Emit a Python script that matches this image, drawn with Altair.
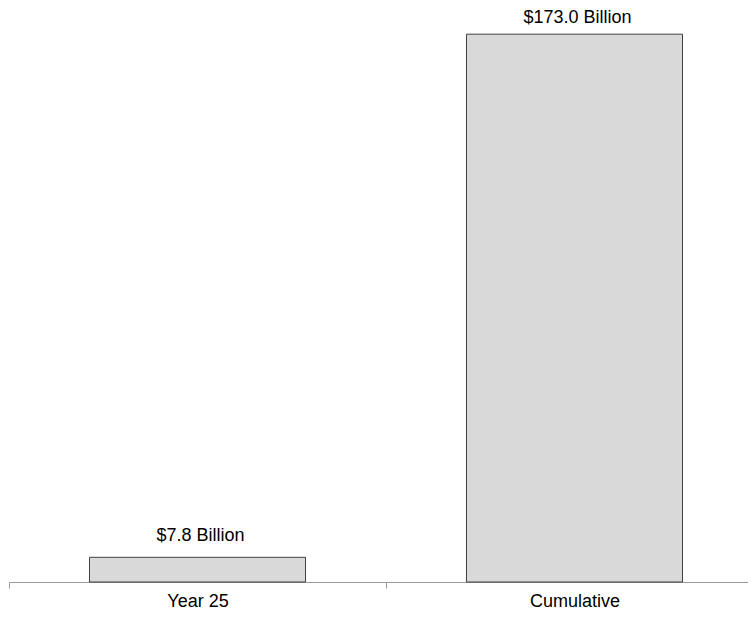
import altair as alt
import pandas as pd

categories = ["Year 25", "Cumulative"]
values = [7.8, 173.0]
labels = ["$7.8 Billion", "$173.0 Billion"]

df = pd.DataFrame({"cat": categories, "value": values, "label": labels})

FONT = "Liberation Sans"

x = alt.X(
    "cat:N",
    sort=categories,
    scale=alt.Scale(paddingInner=0, paddingOuter=0),
    axis=alt.Axis(
        title=None,
        labelAngle=0,
        tickBand="extent",
        tickSize=6,
        labelPadding=4,
        labelFont=FONT,
        labelFontSize=18,
        labelColor="#000000",
        domainColor="#999999",
        tickColor="#999999",
        domainWidth=1,
        tickWidth=1,
    ),
)
y = alt.Y("value:Q", scale=alt.Scale(domain=[0, 180], nice=False), axis=None)

base = alt.Chart(df)

bars = base.mark_bar(
    width=alt.RelativeBandSize(0.573),
    fill="#d9d9d9",
    stroke="#404040",
    strokeWidth=1,
).encode(x=x, y=y)

lab1 = base.transform_filter(alt.datum.cat == "Year 25").mark_text(
    font=FONT, fontSize=18, color="#000000", baseline="alphabetic", dy=-16, dx=3
).encode(x=x, y=y, text="label:N")

lab2 = base.transform_filter(alt.datum.cat == "Cumulative").mark_text(
    font=FONT, fontSize=18, color="#000000", baseline="alphabetic", dy=-11, dx=3
).encode(x=x, y=y, text="label:N")

chart = (
    alt.layer(bars, lab1, lab2)
    .properties(
        width=754,
        height=570,
        autosize=alt.AutoSizeParams(type="none"),
        padding={"left": 1, "top": 4, "right": -15, "bottom": 28},
        background="#ffffff",
    )
    .configure_view(stroke=None)
)

chart.save("out.html", embed_options={"renderer": "svg", "actions": False})
